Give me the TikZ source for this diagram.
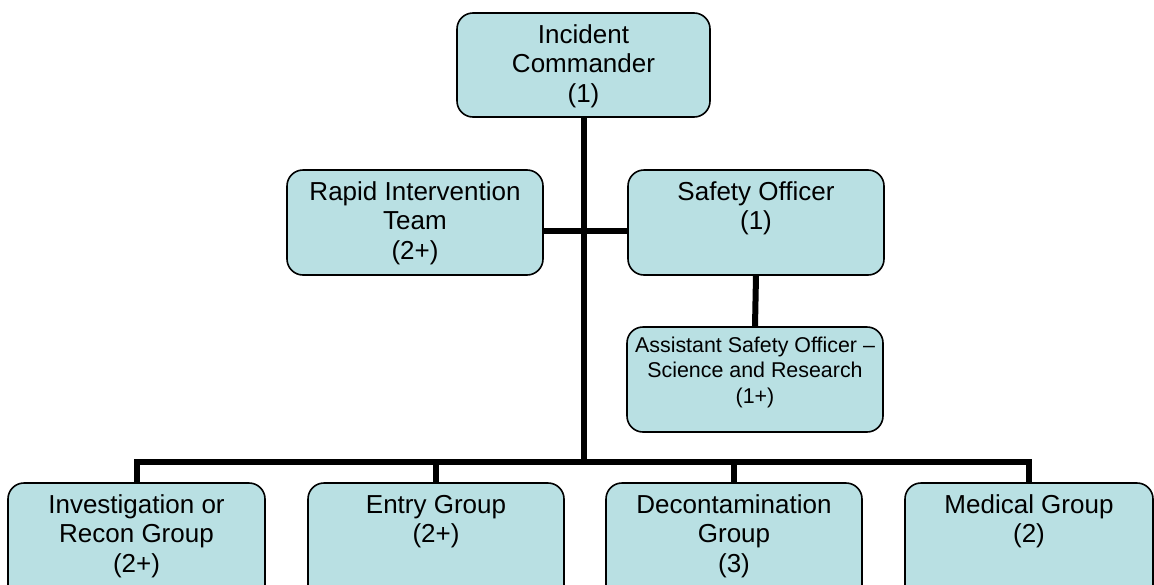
\documentclass[tikz,border=0pt]{standalone}
\usepackage{fontspec}
\setmainfont{Liberation Sans}
\definecolor{boxfill}{RGB}{185,224,227}
\tikzset{
  box/.style={draw=black, line width=1.6pt, fill=boxfill, rounded corners=16pt, inner sep=0pt, rectangle},
  txt/.style={inner sep=0pt, align=center, anchor=north, font=\fontsize{26}{29.5}\selectfont},
  smalltxt/.style={inner sep=0pt, align=center, anchor=north, font=\fontsize{21.4}{25.5}\selectfont},
  conn/.style={line width=6pt, draw=black, line join=miter}
}
\begin{document}
\begin{tikzpicture}[x=1pt,y=-1pt]
\useasboundingbox (0,0) rectangle (1154,584);
\clip (0,0) rectangle (1154,584);
% boxes
\node[box, minimum width=253pt, minimum height=104pt] (ic) at (583.5,65) {};
\node[box, minimum width=256pt, minimum height=105pt] (rit) at (415,222.5) {};
\node[box, minimum width=256pt, minimum height=105pt] (so) at (756,222.5) {};
\node[box, minimum width=256pt, minimum height=105pt] (aso) at (755,379.5) {};
\node[box, minimum width=257pt, minimum height=130pt] (inv) at (136.5,548) {};
\node[box, minimum width=256pt, minimum height=130pt] (ent) at (436,548) {};
\node[box, minimum width=256pt, minimum height=130pt] (dec) at (734,548) {};
\node[box, minimum width=248pt, minimum height=130pt] (med) at (1029,548) {};
% connectors
\coordinate (bus) at (583,462);
\coordinate (rib) at (0,231);
\draw[conn] (ic.south) -- (ic.south |- bus);
\draw[conn] (rit.east |- rib) -- (so.west |- rib);
\draw[conn] (so.south) -- (aso.north);
\draw[conn] (inv.north) -- (inv.north |- bus) -- (med.north |- bus) -- (med.north);
\draw[conn] (ent.north |- bus) -- (ent.north);
\draw[conn] (dec.north |- bus) -- (dec.north);
% texts
\node[txt] (ict) at ([yshift=-11pt]ic.north) {\rule{0pt}{20pt}Incident\\Commander\\(1)};
\node[txt] (ritt) at ([yshift=-11pt]rit.north) {\rule{0pt}{20pt}Rapid Intervention\\Team\\(2+)};
\node[txt] (sot) at ([yshift=-11pt]so.north) {\rule{0pt}{20pt}Safety Officer\\(1)};
\node[smalltxt] (asot) at ([yshift=-9pt]aso.north) {\rule{0pt}{17pt}Assistant Safety Officer –\\Science and Research\\(1+)};
\node[txt] (invt) at ([yshift=-11pt]inv.north) {\rule{0pt}{20pt}Investigation or\\Recon Group\\(2+)};
\node[txt] (entt) at ([yshift=-11pt]ent.north) {\rule{0pt}{20pt}Entry Group\\(2+)};
\node[txt] (dect) at ([yshift=-11pt]dec.north) {\rule{0pt}{20pt}Decontamination\\Group\\(3)};
\node[txt] (medt) at ([yshift=-11pt]med.north) {\rule{0pt}{20pt}Medical Group\\(2)};
\end{tikzpicture}
\end{document}
